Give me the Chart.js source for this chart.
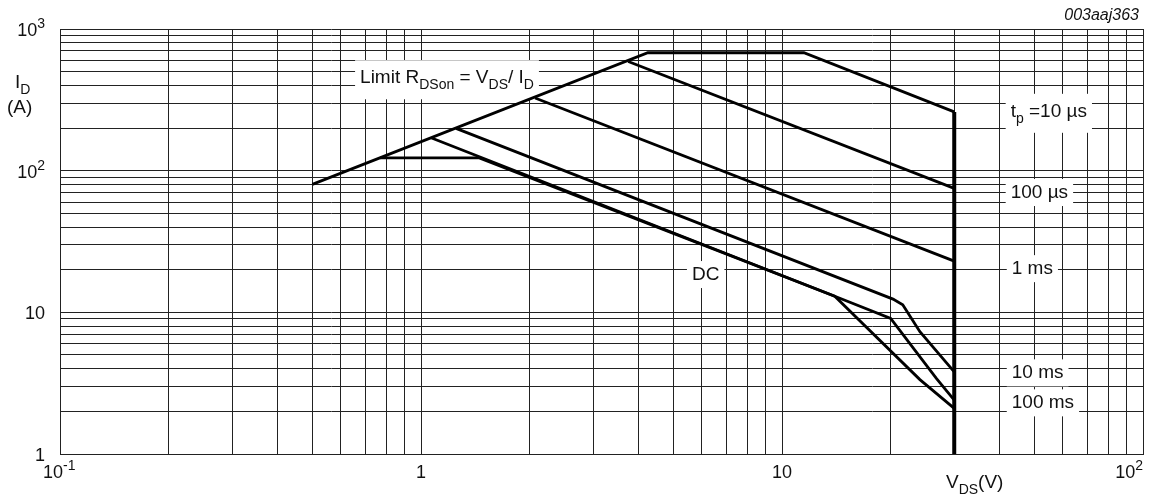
<!DOCTYPE html>
<html>
<head>
<meta charset="utf-8">
<script src="https://cdn.jsdelivr.net/npm/chart.js@4/dist/chart.umd.min.js"></script>
<style>
  html, body { margin: 0; padding: 0; background: #fff; }
</style>
</head>
<body>
<canvas id="soaChart" width="1163" height="499"></canvas>
<script>
// V_DS (V) / I_D (A) points
const vdsMaxV = [30, 30];
const vdsMaxI = [260, 1];

const tp10usV = [0.5, 4.25, 11.5, 30];
const tp10usI = [80, 680, 680, 260];

const tp100usV = [3.75, 30];
const tp100usI = [590, 75];

const tp1msV = [2.07, 30];
const tp1msI = [326, 23];

const tp10msV = [1.25, 20.3, 21.6, 24.1, 30];
const tp10msI = [199, 12.4, 11.3, 7.3, 3.8];

const tp100msV = [1.07, 14, 20, 26.8, 30];
const tp100msI = [170, 13, 9.07, 3.4, 2.4];

const dcV = [0.77, 1.45, 14, 24.1, 30];
const dcI = [123, 123, 13, 3.35, 2.1];

// axis tick labels: [mantissa, exponent]
const xTickVals = [0.1, 1, 10, 100];
const xTickText = [['10', '-1'], ['1', ''], ['10', ''], ['10', '2']];
const yTickVals = [1, 10, 100, 1000];
const yTickText = [['1', ''], ['10', ''], ['10', '2'], ['10', '3']];

// curve annotations, anchored in data units (V, A)
const curveLabels = [
  { parts: [['Limit R', ''], ['DSon', 'sub'], [' = V', ''], ['DS', 'sub'], ['/ I', ''], ['D', 'sub']], v: 0.678, i: 414 },
  { parts: [['t', ''], ['p', 'sub'], [' =10 \u00b5s', '']], v: 43.0, i: 240 },
  { parts: [['100 \u00b5s', '']], v: 43.0, i: 64.1 },
  { parts: [['1 ms', '']], v: 43.3, i: 18.6 },
  { parts: [['10 ms', '']], v: 43.3, i: 3.42 },
  { parts: [['100 ms', '']], v: 43.3, i: 2.10 },
  { parts: [['DC', '']], v: 5.63, i: 16.9 }
];

const FAMILY = '"Liberation Sans", Arial, Helvetica, sans-serif';

function pts(xs, ys) {
  return xs.map((x, k) => ({ x: x, y: ys[k] }));
}

function logGrid(lo, hi) {
  const out = [];
  for (let e = lo; e < hi; e++) {
    for (let s = 1; s <= 9; s++) out.push(s * Math.pow(10, e));
  }
  out.push(Math.pow(10, hi));
  return out;
}

// draws text pieces with sub/superscripts, returns total width
function richText(ctx, parts, x, y, size, dryRun) {
  let cx = x;
  parts.forEach(([t, mode]) => {
    const s = mode ? Math.round(size * 0.76) : size;
    ctx.font = s + 'px ' + FAMILY;
    const dy = mode === 'sub' ? size * 0.3 : mode === 'sup' ? -size * 0.42 : 0;
    if (!dryRun) ctx.fillText(t, cx, y + dy);
    cx += ctx.measureText(t).width;
  });
  return cx - x;
}

function tickParts(t) {
  return t[1] ? [[t[0], ''], [t[1], 'sup']] : [[t[0], '']];
}

const labelsPlugin = {
  id: 'soaLabels',
  beforeDatasetsDraw(chart) {
    const ctx = chart.ctx;
    const xs = chart.scales.x, ys = chart.scales.y;
    ctx.save();
    ctx.textBaseline = 'alphabetic';
    ctx.textAlign = 'left';
    curveLabels.forEach(lb => {
      const px = xs.getPixelForValue(lb.v);
      const py = ys.getPixelForValue(lb.i);
      const w = richText(ctx, lb.parts, px, py, 19, true);
      const hasSub = lb.parts.some(p => p[1] === 'sub');
      ctx.fillStyle = '#fff';
      ctx.fillRect(px - 5, py - (hasSub ? 23 : 19), w + 10, hasSub ? 39 : 27);
      ctx.fillStyle = '#111';
      richText(ctx, lb.parts, px, py, 19, false);
    });
    ctx.restore();
  },
  afterDraw(chart) {
    const ctx = chart.ctx;
    const xs = chart.scales.x, ys = chart.scales.y;
    ctx.save();
    ctx.fillStyle = '#111';
    ctx.textBaseline = 'alphabetic';
    ctx.textAlign = 'left';

    // y axis tick labels, right aligned
    yTickVals.forEach((v, k) => {
      const parts = tickParts(yTickText[k]);
      const py = ys.getPixelForValue(v) + 7;
      const w = richText(ctx, parts, 0, 0, 18, true);
      richText(ctx, parts, 45 - w, py, 18, false);
    });

    // x axis tick labels
    xTickVals.forEach((v, k) => {
      const parts = tickParts(xTickText[k]);
      const px = xs.getPixelForValue(v);
      const w = richText(ctx, parts, 0, 0, 18, true);
      let left = px - w / 2;
      if (k === 0) left = px - 17;
      if (k === xTickVals.length - 1) left = px - w;
      richText(ctx, parts, left, 478, 18, false);
    });

    // axis titles
    richText(ctx, [['I', ''], ['D', 'sub']], 15, 88, 19, false);
    richText(ctx, [['(A)', '']], 7, 113, 19, false);
    richText(ctx, [['V', ''], ['DS', 'sub'], ['(V)', '']], 946, 488, 19, false);

    // drawing code, top right
    ctx.font = 'italic 16px ' + FAMILY;
    ctx.textAlign = 'right';
    ctx.fillText('003aaj363', 1139, 20);
    ctx.restore();
  }
};

const lineStyle = {
  showLine: true,
  borderColor: '#000',
  backgroundColor: '#000',
  borderWidth: 2.8,
  pointRadius: 0,
  tension: 0,
  fill: false
};

const ctx = document.getElementById('soaChart').getContext('2d');

new Chart(ctx, {
  type: 'scatter',
  data: {
    datasets: [
      Object.assign({ label: 'tp = 10 us', data: pts(tp10usV, tp10usI) }, lineStyle),
      Object.assign({ label: '100 us', data: pts(tp100usV, tp100usI) }, lineStyle),
      Object.assign({ label: '1 ms', data: pts(tp1msV, tp1msI) }, lineStyle),
      Object.assign({ label: '10 ms', data: pts(tp10msV, tp10msI) }, lineStyle),
      Object.assign({ label: '100 ms', data: pts(tp100msV, tp100msI) }, lineStyle),
      Object.assign({ label: 'DC', data: pts(dcV, dcI) }, lineStyle),
      Object.assign({ label: 'VDS max', data: pts(vdsMaxV, vdsMaxI) }, lineStyle, { borderWidth: 4 })
    ]
  },
  options: {
    responsive: false,
    animation: false,
    layout: {
      padding: { left: 60, top: 29, right: 20, bottom: 45 }
    },
    plugins: {
      legend: { display: false },
      tooltip: { enabled: false }
    },
    scales: {
      x: {
        type: 'logarithmic',
        min: 0.1,
        max: 100,
        afterBuildTicks: scale => { scale.ticks = logGrid(-1, 2).map(v => ({ value: v })); },
        ticks: { display: false },
        grid: { color: '#222', lineWidth: 1, drawTicks: false },
        border: { display: true, color: '#222', width: 1 }
      },
      y: {
        type: 'logarithmic',
        min: 1,
        max: 1000,
        afterBuildTicks: scale => { scale.ticks = logGrid(0, 3).map(v => ({ value: v })); },
        ticks: { display: false },
        grid: { color: '#222', lineWidth: 1, drawTicks: false },
        border: { display: true, color: '#222', width: 1 }
      }
    }
  },
  plugins: [labelsPlugin]
});
</script>
</body>
</html>
